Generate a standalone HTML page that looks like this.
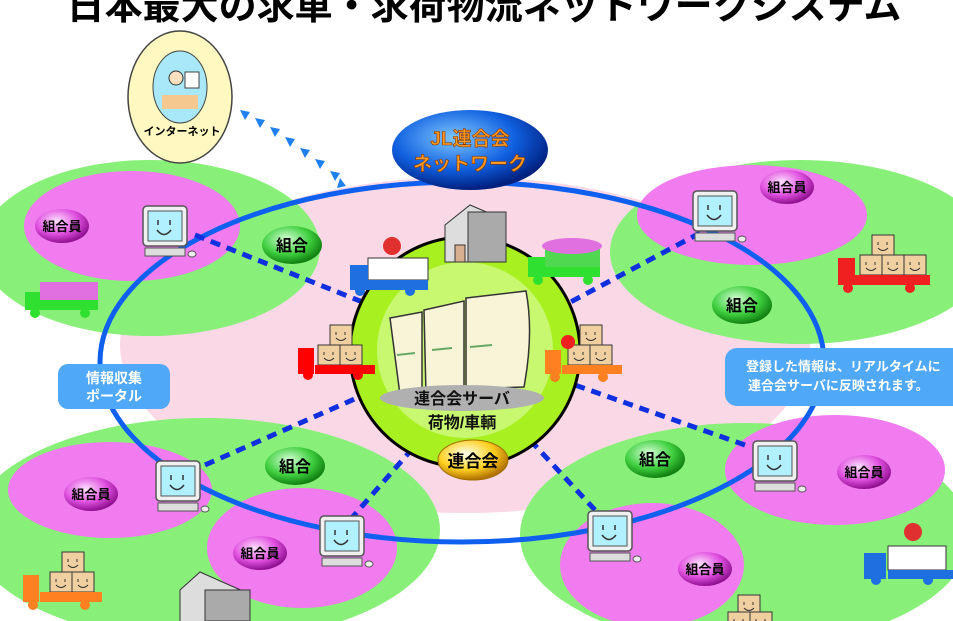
<!DOCTYPE html>
<html><head><meta charset="utf-8"><style>
html,body{margin:0;padding:0;background:#fff;}
svg{display:block;}
text{font-family:"Liberation Sans","Noto Sans CJK JP",sans-serif;font-weight:bold;}
</style></head><body>
<svg width="953" height="621" viewBox="0 0 953 621" xmlns="http://www.w3.org/2000/svg">
<defs>
<radialGradient id="gG" cx="40%" cy="35%" r="65%"><stop offset="0" stop-color="#d8ffd8"/><stop offset="0.6" stop-color="#40d040"/><stop offset="1" stop-color="#108010"/></radialGradient>
<radialGradient id="gP" cx="40%" cy="35%" r="65%"><stop offset="0" stop-color="#ffe0ff"/><stop offset="0.6" stop-color="#e050e0"/><stop offset="1" stop-color="#901090"/></radialGradient>
<radialGradient id="gB" cx="40%" cy="35%" r="65%"><stop offset="0" stop-color="#80c8ff"/><stop offset="0.6" stop-color="#1060e0"/><stop offset="1" stop-color="#002080"/></radialGradient>
<radialGradient id="gY" cx="40%" cy="35%" r="65%"><stop offset="0" stop-color="#fffff0"/><stop offset="0.6" stop-color="#ffd020"/><stop offset="1" stop-color="#b07000"/></radialGradient>
<g id="pc">
<rect x="-22" y="-24" width="44" height="40" rx="4" fill="#f0f0f0" stroke="#555" stroke-width="1.5"/>
<rect x="-17" y="-19" width="34" height="30" fill="#b0f0ff" stroke="#555"/>
<path d="M-7 -10v5M5 -10v5M-8 0q7 9 14 0" stroke="#333" stroke-width="1.5" fill="none"/>
<rect x="-20" y="18" width="40" height="8" fill="#ddd" stroke="#555"/>
<ellipse cx="27" cy="24" rx="4" ry="3" fill="#eee" stroke="#555"/>
</g>
<g id="box"><rect x="0" y="0" width="22" height="20" fill="#f0d0a0" stroke="#333"/><path d="M6 7v3M15 7v3M6 13q5 5 10 0" stroke="#333" fill="none"/></g>
</defs>

<text x="484" y="19" font-size="38" text-anchor="middle" fill="#000" font-weight="900">日本最大の求車・求荷物流ネットワークシステム</text>

<ellipse cx="465" cy="345" rx="345" ry="168" fill="#fbd8e6"/>

<ellipse cx="150" cy="248" rx="170" ry="88" fill="#88f078"/>
<ellipse cx="132" cy="226" rx="108" ry="55" fill="#f07cf0"/>
<ellipse cx="800" cy="252" rx="190" ry="92" fill="#88f078"/>
<ellipse cx="752" cy="215" rx="115" ry="50" fill="#f07cf0"/>
<ellipse cx="205" cy="530" rx="235" ry="112" fill="#88f078"/>
<ellipse cx="110" cy="490" rx="102" ry="48" fill="#f07cf0"/>
<ellipse cx="302" cy="548" rx="95" ry="60" fill="#f07cf0"/>
<ellipse cx="745" cy="535" rx="225" ry="112" fill="#88f078"/>
<ellipse cx="835" cy="470" rx="110" ry="55" fill="#f07cf0"/>
<ellipse cx="652" cy="565" rx="92" ry="62" fill="#f07cf0"/>

<ellipse cx="462" cy="362" rx="362" ry="180" fill="none" stroke="#1060f0" stroke-width="5"/>

<g stroke="#1030e0" stroke-width="5" stroke-dasharray="10,7" fill="none">
<line x1="195" y1="235" x2="370" y2="305"/>
<line x1="715" y1="225" x2="565" y2="305"/>
<line x1="205" y1="465" x2="375" y2="390"/>
<line x1="350" y1="520" x2="420" y2="440"/>
<line x1="595" y1="510" x2="530" y2="440"/>
<line x1="745" y1="445" x2="575" y2="385"/>
</g>

<ellipse cx="180" cy="97" rx="52" ry="66" fill="#fff8c0" stroke="#444" stroke-width="1.5"/>
<ellipse cx="180" cy="87" rx="27" ry="36" fill="#a8e8f8" stroke="#444"/>
<rect x="162" y="95" width="36" height="14" fill="#f5c890"/>
<circle cx="176" cy="78" r="7" fill="#fde0c0" stroke="#333"/>
<rect x="185" y="72" width="14" height="16" fill="#fff" stroke="#444"/>
<text x="182" y="135" font-size="11" text-anchor="middle" fill="#000">インターネット</text>
<g fill="#2080f0">
<path d="M240 110l10 2-5 8z"/><path d="M255 118l10 2-5 8z"/><path d="M270 127l10 2-5 8z"/><path d="M285 137l10 2-5 8z"/><path d="M300 148l10 2-5 8z"/><path d="M315 159l10 2-5 8z"/><path d="M330 171l10 2-5 8z"/><path d="M340 178l6 8-9 2z"/>
</g>

<ellipse cx="470" cy="150" rx="78" ry="40" fill="url(#gB)"/>
<text x="470" y="145" font-size="19" text-anchor="middle" fill="#ff9a20" stroke="#803000" stroke-width="0.6">JL連合会</text>
<text x="470" y="170" font-size="19" text-anchor="middle" fill="#ff9a20" stroke="#803000" stroke-width="0.6">ネットワーク</text>

<circle cx="465" cy="352" r="115" fill="#a8f020" stroke="#000" stroke-width="3"/>
<circle cx="465" cy="350" r="88" fill="#c8f870"/>
<g stroke="#333" stroke-width="1.5" fill="#f8f4d8">
<path d="M390 318l32-6 0 80-22 3z"/>
<path d="M424 310l40-9 0 88-38 5z"/>
<path d="M466 298l60-7q8 42-2 96l-58 2z"/>
</g>
<g stroke="#6a6" stroke-width="2"><line x1="397" y1="355" x2="415" y2="353"/><line x1="432" y1="350" x2="452" y2="348"/><line x1="470" y1="347" x2="492" y2="345"/></g>
<ellipse cx="462" cy="398" rx="82" ry="13" fill="#b0b0b0"/>
<text x="462" y="404" font-size="16" text-anchor="middle" fill="#111">連合会サーバ</text>
<text x="462" y="428" font-size="16" text-anchor="middle" fill="#111">荷物/車輌</text>
<ellipse cx="473" cy="460" rx="35" ry="20" fill="url(#gY)" stroke="#a07000"/>
<text x="473" y="467" font-size="17" text-anchor="middle" fill="#000">連合会</text>

<path d="M445 225l25-20 35 15 0 42-60 0z" fill="#ddd" stroke="#333"/>
<rect x="468" y="212" width="38" height="50" fill="#aaa" stroke="#333"/>
<rect x="455" y="245" width="10" height="17" fill="#d8b090" stroke="#333"/>
<g><rect x="368" y="258" width="60" height="22" fill="#fff" stroke="#333"/><rect x="368" y="280" width="60" height="10" fill="#1e70e0"/><rect x="350" y="265" width="18" height="25" fill="#1e70e0"/><circle cx="360" cy="291" r="5" fill="#1e70e0"/><circle cx="410" cy="291" r="5" fill="#1e70e0"/><circle cx="392" cy="246" r="9" fill="#e03030"/></g>
<g><rect x="545" y="245" width="55" height="22" fill="#50d850"/><rect x="545" y="267" width="55" height="10" fill="#30e030"/><rect x="528" y="257" width="17" height="20" fill="#30e030"/><circle cx="538" cy="280" r="5" fill="#30e030"/><circle cx="588" cy="280" r="5" fill="#30e030"/><ellipse cx="572" cy="246" rx="30" ry="8" fill="#e070e0"/></g>
<g><use href="#box" x="330" y="325"/><use href="#box" x="318" y="345"/><use href="#box" x="340" y="345"/><rect x="315" y="365" width="60" height="9" fill="#f00"/><rect x="298" y="348" width="16" height="26" fill="#f00"/><circle cx="308" cy="375" r="5" fill="#f00"/><circle cx="358" cy="375" r="5" fill="#f00"/></g>
<g><use href="#box" x="580" y="325"/><use href="#box" x="568" y="345"/><use href="#box" x="590" y="345"/><rect x="562" y="365" width="60" height="9" fill="#ff8020"/><rect x="545" y="350" width="16" height="24" fill="#ff8020"/><circle cx="555" cy="377" r="5" fill="#ff8020"/><circle cx="603" cy="377" r="5" fill="#ff8020"/><circle cx="568" cy="342" r="7" fill="#f02020"/></g>

<g><rect x="40" y="282" width="58" height="18" fill="#e070e0"/><rect x="40" y="300" width="58" height="10" fill="#30e030"/><rect x="25" y="292" width="15" height="18" fill="#30e030"/><circle cx="35" cy="313" r="5" fill="#30e030"/><circle cx="85" cy="313" r="5" fill="#30e030"/></g>
<g><use href="#box" x="872" y="235"/><use href="#box" x="860" y="255"/><use href="#box" x="882" y="255"/><use href="#box" x="904" y="255"/><rect x="855" y="275" width="75" height="10" fill="#f02020"/><rect x="838" y="258" width="17" height="27" fill="#f02020"/><circle cx="848" cy="288" r="5" fill="#f02020"/><circle cx="910" cy="288" r="5" fill="#f02020"/></g>
<g><use href="#box" x="62" y="552"/><use href="#box" x="50" y="572"/><use href="#box" x="72" y="572"/><rect x="40" y="592" width="62" height="10" fill="#ff8020"/><rect x="23" y="575" width="16" height="27" fill="#ff8020"/><circle cx="33" cy="605" r="5" fill="#ff8020"/><circle cx="85" cy="605" r="5" fill="#ff8020"/></g>
<g><rect x="888" y="546" width="58" height="24" fill="#fff" stroke="#333"/><rect x="888" y="570" width="65" height="9" fill="#1e70e0"/><rect x="864" y="553" width="22" height="26" fill="#1e70e0"/><circle cx="876" cy="580" r="5" fill="#1e70e0"/><circle cx="928" cy="580" r="5" fill="#1e70e0"/><circle cx="913" cy="532" r="9" fill="#e03030"/></g>
<g><use href="#box" x="738" y="595"/><use href="#box" x="728" y="612"/><use href="#box" x="750" y="612"/></g>
<path d="M180 590l20-18 45 20 0 30-65 0z" fill="#ddd" stroke="#333"/>
<rect x="205" y="590" width="45" height="31" fill="#aaa" stroke="#333"/>

<use href="#pc" x="165" y="230"/>
<use href="#pc" x="715" y="215"/>
<use href="#pc" x="178" y="485"/>
<use href="#pc" x="342" y="540"/>
<use href="#pc" x="610" y="535"/>
<use href="#pc" x="775" y="465"/>

<g font-size="16" text-anchor="middle" fill="#000">
<ellipse cx="292" cy="245" rx="30" ry="19" fill="url(#gG)"/><text x="292" y="251">組合</text>
<ellipse cx="742" cy="305" rx="30" ry="19" fill="url(#gG)"/><text x="742" y="311">組合</text>
<ellipse cx="295" cy="466" rx="30" ry="19" fill="url(#gG)"/><text x="295" y="472">組合</text>
<ellipse cx="655" cy="459" rx="30" ry="19" fill="url(#gG)"/><text x="655" y="465">組合</text>
</g>
<g font-size="13" text-anchor="middle" fill="#000">
<ellipse cx="62" cy="226" rx="27" ry="17" fill="url(#gP)"/><text x="62" y="231">組合員</text>
<ellipse cx="787" cy="187" rx="27" ry="17" fill="url(#gP)"/><text x="787" y="192">組合員</text>
<ellipse cx="91" cy="494" rx="27" ry="17" fill="url(#gP)"/><text x="91" y="499">組合員</text>
<ellipse cx="260" cy="553" rx="27" ry="17" fill="url(#gP)"/><text x="260" y="558">組合員</text>
<ellipse cx="864" cy="472" rx="27" ry="17" fill="url(#gP)"/><text x="864" y="477">組合員</text>
<ellipse cx="705" cy="569" rx="27" ry="17" fill="url(#gP)"/><text x="705" y="574">組合員</text>
</g>

<rect x="58" y="364" width="112" height="45" rx="10" fill="#50a8f8"/>
<text x="114" y="383" font-size="14" text-anchor="middle" fill="#fff">情報収集</text>
<text x="114" y="401" font-size="14" text-anchor="middle" fill="#fff">ポータル</text>
<rect x="725" y="348" width="240" height="58" rx="12" fill="#50a8f8"/>
<text x="746" y="371" font-size="13" fill="#fff">登録した情報は、リアルタイムに</text>
<text x="748" y="390" font-size="13" fill="#fff">連合会サーバに反映されます。</text>
</svg>
</body></html>
